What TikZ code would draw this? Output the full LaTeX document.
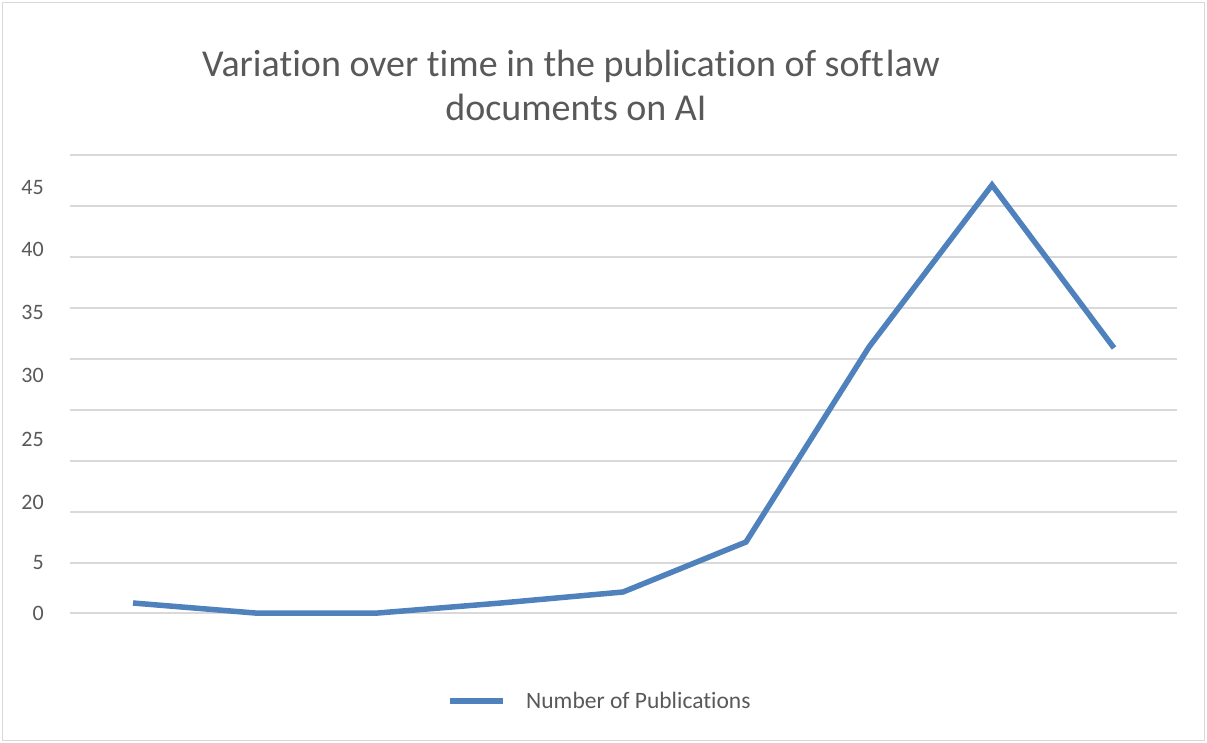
\documentclass[tikz,border=0pt]{standalone}
\usepackage{fontspec}
\setmainfont[Ligatures={NoCommon},RawFeature={-liga;-clig}]{Carlito}
\definecolor{serieblue}{HTML}{4F81BD}
\definecolor{gridgray}{HTML}{D9D9D9}
\definecolor{textgray}{HTML}{595959}
\begin{document}
\begin{tikzpicture}[x=1pt,y=-1pt,
  gridline/.style={draw=gridgray,line width=1.6pt},
  frameline/.style={draw=gridgray,line width=1.6pt},
  serie/.style={draw=serieblue,line width=5.5pt,line join=miter,line cap=butt},
  ticklabel/.style={anchor=east,inner sep=0pt,text=textgray,font=\fontsize{22}{26}\selectfont},
  titletext/.style={anchor=base,inner sep=0pt,text=textgray,font=\fontsize{38}{46}\selectfont},
  legendtext/.style={anchor=base west,inner sep=0pt,text=textgray,font=\fontsize{23.5}{28}\selectfont}]
\useasboundingbox (0,0) rectangle (1207,743);
\fill[white] (0,0) rectangle (1207,743);
\draw[frameline] (2.5,2.5) rectangle (1204.5,740.5);
% gridlines
\foreach \gy in {155,206,257,308,359,410,461,512,563,613}
  \draw[gridline] (70,\gy) -- (1177,\gy);
% y labels
\node[ticklabel] (l45) at (44,188) {45};
\node[ticklabel] (l40) at (44,249) {40};
\node[ticklabel] (l35) at (44,312) {35};
\node[ticklabel] (l30) at (44,375) {30};
\node[ticklabel] (l25) at (44,439) {25};
\node[ticklabel] (l20) at (44,502) {20};
\node[ticklabel] (l5) at (44,563) {5};
\node[ticklabel] (l0) at (44,613) {0};
% title
\node[titletext] (title1) at (571,77) {Variation over time in the publication of soft\hspace{0.05em}law};
\node[titletext] (title2) at (576,121) {documents on AI};
% data points
\coordinate (p0) at (133,603);
\coordinate (p1) at (255,613);
\coordinate (p2) at (378,613);
\coordinate (p3) at (501,603);
\coordinate (p4) at (623,592);
\coordinate (p5) at (746,542);
\coordinate (p6) at (869,347);
\coordinate (p7) at (992,185);
\coordinate (p8) at (1114,348);
\draw[serie] (p0) -- (p1) -- (p2) -- (p3) -- (p4) -- (p5) -- (p6) -- (p7) -- (p8);
% legend
\coordinate (lg0) at (450,701);
\coordinate (lg1) at (503,701);
\draw[serie] (lg0) -- (lg1);
\node[legendtext] (legend) at (526,708) {Number of Publications};
\end{tikzpicture}
\end{document}
